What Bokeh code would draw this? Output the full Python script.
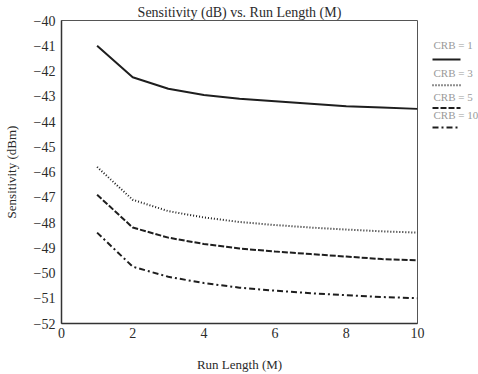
from bokeh.plotting import figure
from bokeh.layouts import row
from bokeh.models import Range1d, FixedTicker, Title
from bokeh.core.properties import value
from bokeh.embed import file_html
from bokeh.resources import INLINE

# Run length (M) and receiver sensitivity (dBm) per CRB setting
run_length = [1, 2, 3, 4, 5, 6, 7, 8, 9, 10]
crb_1 = [-41.0, -42.25, -42.7, -42.95, -43.1, -43.2, -43.3, -43.4, -43.45, -43.5]
crb_3 = [-45.8, -47.1, -47.55, -47.8, -47.98, -48.1, -48.2, -48.28, -48.35, -48.4]
crb_5 = [-46.9, -48.2, -48.6, -48.85, -49.03, -49.15, -49.25, -49.35, -49.45, -49.5]
crb_10 = [-48.4, -49.75, -50.15, -50.4, -50.58, -50.7, -50.8, -50.88, -50.95, -51.0]

series = [crb_1, crb_3, crb_5, crb_10]
series_labels = ["CRB = 1", "CRB = 3", "CRB = 5", "CRB = 10"]
series_dash = ["solid", "1 2", "6 2", "6 3 2 3"]

x_ticks = [0, 2, 4, 6, 8, 10]
y_ticks = list(range(-52, -39))

SERIF = "Liberation Serif"
INK = "#2b2b2b"

p = figure(width=428, height=374, output_backend="svg", toolbar_location=None,
           x_range=Range1d(0, 10), y_range=Range1d(-52, -40),
           min_border_left=60, min_border_right=11, min_border_top=20,
           min_border_bottom=51)
p.title = Title(text="Sensitivity (dB) vs. Run Length (M)", align="center",
                text_font=SERIF, text_font_size="14px", text_font_style="normal",
                text_color=INK, offset=11, standoff=1)

p.grid.visible = False
p.outline_line_color = "#555555"
p.outline_line_width = 1

p.xaxis.ticker = FixedTicker(ticks=x_ticks)
p.yaxis.ticker = FixedTicker(ticks=y_ticks)
for ax in (p.xaxis, p.yaxis):
    ax.major_tick_out = 0
    ax.major_tick_in = 0
    ax.minor_tick_out = 0
    ax.minor_tick_in = 0
    ax.axis_line_color = "#333333"
    ax.axis_line_width = 1.5
    ax.major_label_text_font = SERIF
    ax.major_label_text_font_size = "14px"
    ax.major_label_text_color = INK
    ax.axis_label_text_font = SERIF
    ax.axis_label_text_font_size = "13px"
    ax.axis_label_text_font_style = "normal"
    ax.axis_label_text_color = INK
p.xaxis.axis_label = "Run Length (M)"
p.yaxis.axis_label = "Sensitivity (dBm)"
p.xaxis.major_label_standoff = 4
p.yaxis.major_label_standoff = 6
p.xaxis.axis_label_standoff = 16
p.yaxis.axis_label_standoff = 12

for ys, dash in zip(series, series_dash):
    p.line(run_length, ys, line_color="#1e1e1e", line_width=2, line_dash=dash)

# Key panel to the right of the plot: caption above each line sample
legend_text_y = [30, 65, 94, 117]
legend_line_y = [48, 80, 108, 132]

key = figure(width=50, height=374, output_backend="svg", toolbar_location=None,
             x_range=Range1d(0, 50), y_range=Range1d(374, 0),
             min_border=0, outline_line_color=None)
key.axis.visible = False
key.grid.visible = False
key.text(x=[5] * len(series_labels), y=legend_text_y, text=series_labels,
         text_font=value(SERIF), text_font_size="11px", text_color="#9a9a9a",
         text_baseline="middle", text_align="left")
for ly, dash in zip(legend_line_y, series_dash):
    key.line([4, 32], [ly, ly], line_color="#1e1e1e", line_width=2, line_dash=dash)

layout = row(p, key, spacing=0)
open("out.html", "w").write(file_html(layout, INLINE))
